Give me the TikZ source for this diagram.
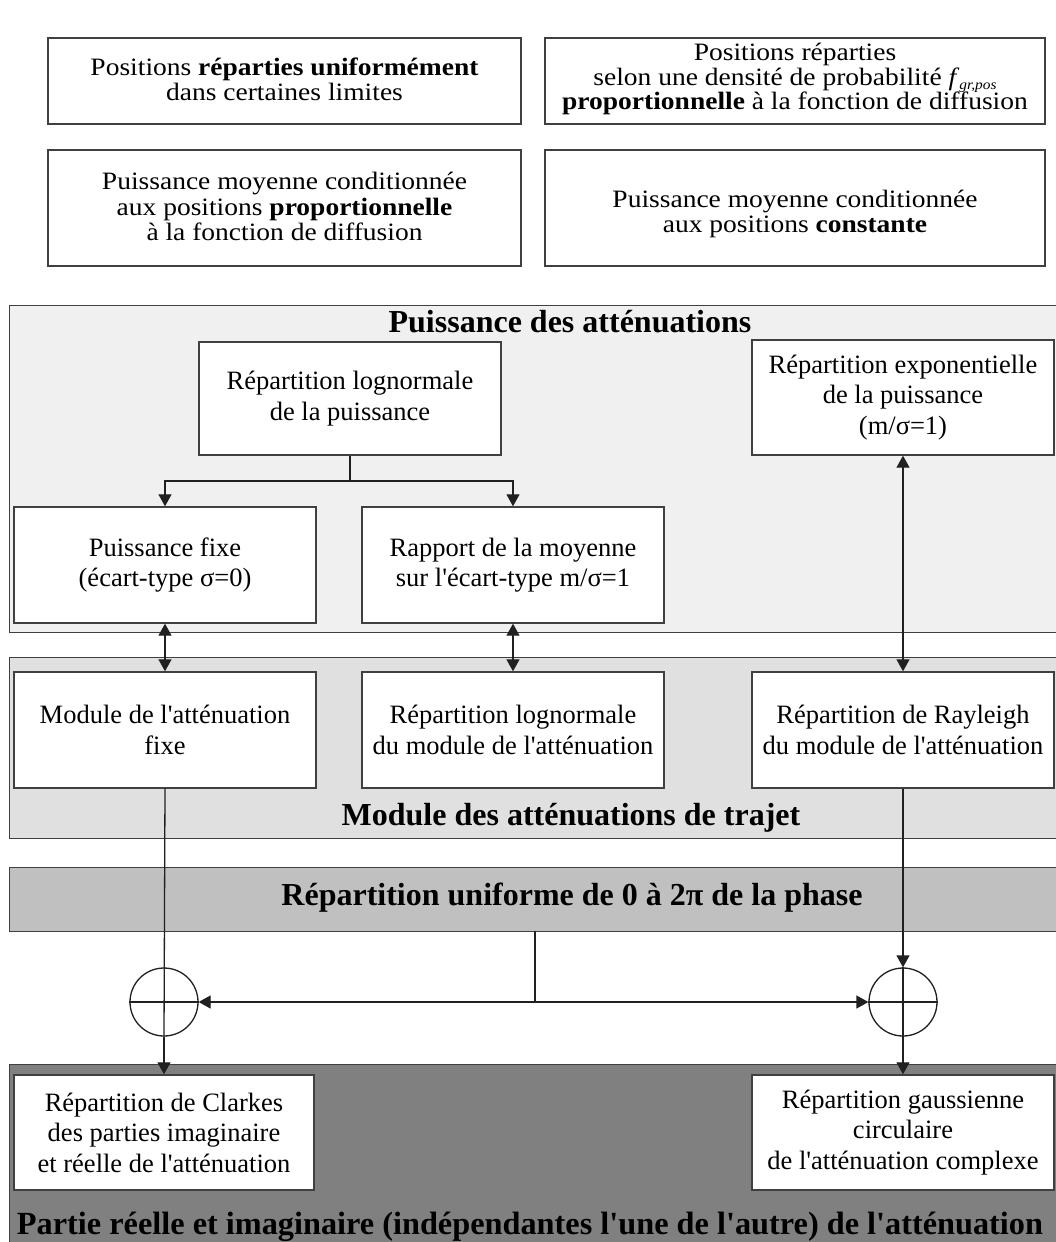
\documentclass[tikz,border=0pt]{standalone}
\usepackage{fontspec}
\usepackage{graphicx}
\setmainfont{Liberation Serif}[Ligatures=TeXOff]
\usetikzlibrary{arrows.meta}
\definecolor{bandA}{HTML}{F0F0F0}
\definecolor{bandB}{HTML}{E0E0E0}
\definecolor{bandC}{HTML}{C0C0C0}
\definecolor{bandD}{HTML}{808080}
\definecolor{edge}{HTML}{404040}
\definecolor{wire}{HTML}{202020}
\newcommand{\toptext}[1]{\scalebox{1.1}[1]{\fontsize{25}{25.5}\selectfont\begin{tabular}{@{}c@{}}#1\end{tabular}}}
\newcommand{\toptextb}[1]{\scalebox{1.1}[1]{\fontsize{25}{24.5}\selectfont\begin{tabular}{@{}c@{}}#1\end{tabular}}}
\begin{document}
\begin{tikzpicture}[x=1pt,y=-1pt,
  every node/.style={font=\fontsize{26.5}{30.5}\selectfont},
  box/.style={draw=edge,line width=1.4pt,fill=white,inner sep=0pt,align=center,anchor=center},
  txt/.style={inner sep=0pt,anchor=center},
  band/.style={draw=edge,line width=1.4pt,inner sep=0pt,anchor=north west},
  bandtitle/.style={inner sep=0pt,font=\fontsize{32}{36}\selectfont\bfseries},
  wirel/.style={draw=wire,line width=1.3pt},
  arr/.style={wirel,-{Triangle[length=12pt,width=13pt]}},
  darr/.style={wirel,{Triangle[length=12pt,width=13pt]}-{Triangle[length=12pt,width=13pt]}},
  summer/.style={circle,draw=wire,line width=1.3pt,minimum size=68pt,inner sep=0pt}
]
\useasboundingbox (0,0) rectangle (1056,1242);
\clip (0,0) rectangle (1056,1242);
\fill[white] (0,0) rectangle (1056,1242);

% top boxes
\node[box,minimum width=473pt,minimum height=86pt] (b1) at (284.5,81) {};
\node[txt] (b1t) at (284.5,83) {\toptext{Positions \textbf{réparties uniformément}\\dans certaines limites}};
\node[box,minimum width=500pt,minimum height=86pt] (b2) at (795,81) {};
\node[txt] (b2t) at (795,80) {\toptextb{Positions réparties\\selon une densité de probabilité \textit{f}\raisebox{-0.35ex}{\fontsize{14}{14}\selectfont\itshape gr,pos}\\\textbf{proportionnelle} à la fonction de diffusion}};
\node[box,minimum width=473pt,minimum height=116pt] (b3) at (284.5,208) {};
\node[txt] (b3t) at (284.5,210) {\toptext{Puissance moyenne conditionnée\\aux positions \textbf{proportionnelle}\\à la fonction de diffusion}};
\node[box,minimum width=500pt,minimum height=116pt] (b4) at (795,208) {};
\node[txt] (b4t) at (795,215) {\toptext{Puissance moyenne conditionnée\\aux positions \textbf{constante}}};

% bands
\node[band,fill=bandA,minimum width=1130pt,minimum height=327pt] (band1) at (9,305) {};
\node[band,fill=bandB,minimum width=1130pt,minimum height=181pt] (band2) at (9,657) {};
\node[band,fill=bandC,minimum width=1130pt,minimum height=64pt] (band3) at (9,867) {};
\node[band,fill=bandD,minimum width=1130pt,minimum height=200pt] (band4) at (9,1064) {};

\node[bandtitle] (t1) at (570,322) {Puissance des atténuations};
\node[bandtitle] (t2) at (571,818) {Module des atténuations de trajet};
\node[bandtitle] (t3) at (572,898) {Répartition uniforme de 0 à 2π de la phase};
\node[bandtitle,font=\fontsize{32.3}{36}\selectfont\bfseries] (t4) at (530,1227) {Partie réelle et imaginaire (indépendantes l'une de l'autre) de l'atténuation};

% band 1 boxes
\node[box,minimum width=302pt,minimum height=113pt] (lnp) at (350,398.5) {Répartition lognormale\\de la puissance};
\node[box,minimum width=302pt,minimum height=115pt] (expo) at (903,397.5) {Répartition exponentielle\\de la puissance\\(m/σ=1)};
\node[box,minimum width=302pt,minimum height=116pt] (pf) at (165,565) {Puissance fixe\\(écart-type σ=0)};
\node[box,minimum width=302pt,minimum height=116pt] (rap) at (513,565) {Rapport de la moyenne\\sur l'écart-type m/σ=1};

% band 2 boxes
\node[box,minimum width=302pt,minimum height=116pt] (modfix) at (165,730) {Module de l'atténuation\\fixe};
\node[box,minimum width=302pt,minimum height=116pt] (lnmod) at (513,730) {Répartition lognormale\\du module de l'atténuation};
\node[box,minimum width=302pt,minimum height=116pt] (ray) at (903,730) {Répartition de Rayleigh\\du module de l'atténuation};

% band 4 boxes
\node[box,minimum width=300pt,minimum height=115pt] (clarkes) at (164,1132.5) {Répartition de Clarkes\\des parties imaginaire\\et réelle de l'atténuation};
\node[box,minimum width=302pt,minimum height=115pt] (gauss) at (903,1132.5) {Répartition gaussienne\\circulaire\\de l'atténuation complexe};

% summing circles
\node[summer] (c1) at (164,1002) {};
\node[summer] (c2) at (903,1002) {};
\draw[wirel] (c1.west) -- (c1.east);
\draw[wirel] (c2.west) -- (c2.east);
\draw[wirel] (c2.north) -- (c2.south);

% connectors
\coordinate (fork) at (350,481);
\draw[wirel] (lnp.south) -- (fork);
\draw[arr] (fork) -| (pf.north);
\draw[arr] (fork) -| (rap.north);
\draw[darr] (pf.south) -- (modfix.north);
\draw[darr] (rap.south) -- (lnmod.north);
\draw[darr] (expo.south) -- (ray.north);

\draw[wirel] (modfix.south) -- (c1.south);
\draw[arr] (c1.south) -- (clarkes.north);
\draw[arr] (ray.south) -- (c2.north);
\draw[arr] (c2.south) -- (gauss.north);

\coordinate (ph) at (535,931);
\coordinate (phj) at (535,1002);
\draw[wirel] (ph) -- (phj);
\draw[arr] (phj) -- (c1.east);
\draw[arr] (phj) -- (c2.west);
\end{tikzpicture}
\end{document}
